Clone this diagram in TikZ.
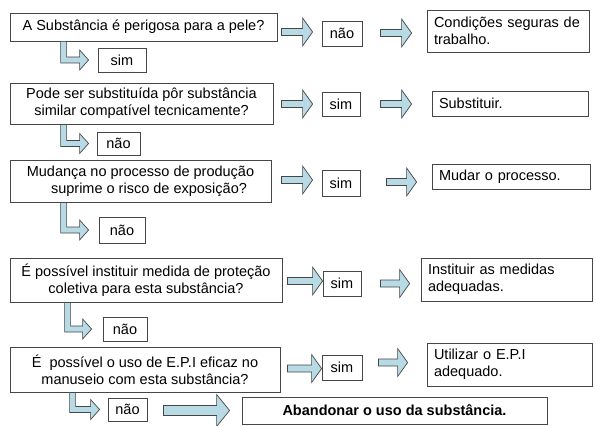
\documentclass[tikz,border=0pt]{standalone}
\usepackage{fontspec}
\setmainfont{Liberation Sans}
\usetikzlibrary{calc,shadows}
\definecolor{arrowfill}{RGB}{183,218,229}
\definecolor{boxline}{RGB}{70,70,70}
% straight block arrow: #1 start (tail centre), #2 end (tip, only x used), #3 shaft half, #4 head half, #5 head length
\newcommand\rowarr[5]{%
  \path[barrow] let \p1=#1, \p2=#2 in
    (\x1,\y1+#3) -- (\x2-#5,\y1+#3) -- (\x2-#5,\y1+#4) -- (\x2,\y1)
    -- (\x2-#5,\y1-#4) -- (\x2-#5,\y1-#3) -- (\x1,\y1-#3) -- cycle;}
% L-shaped block arrow: #1 top of vertical shaft (centre), #2 tip
\newcommand\larr[2]{%
  \path[barrow] let \p1=#1, \p2=#2 in
    (\x1-3pt,\y1) -- (\x1-3pt,\y2-3pt) -- (\x2-9pt,\y2-3pt) -- (\x2-9pt,\y2-10pt)
    -- (\x2,\y2) -- (\x2-9pt,\y2+10pt) -- (\x2-9pt,\y2+3pt) -- (\x1+3pt,\y2+3pt)
    -- (\x1+3pt,\y1) -- cycle;}
\begin{document}
\begin{tikzpicture}[x=1pt,y=-1pt,
  every node/.style={font=\fontsize{14.5}{17}\selectfont},
  box/.style={draw=boxline, line width=0.8pt, fill=white, inner sep=0pt, align=center,
    drop shadow={shadow xshift=1pt,shadow yshift=-1pt,fill=black!50,opacity=1}},
  rbox/.style={box, align=left, inner xsep=7pt},
  barrow/.style={fill=arrowfill, draw=boxline, line width=0.7pt, line join=miter},
]
\useasboundingbox[fill=white] (0,0) rectangle (596,425);

% Row 1
\node[box, minimum width=267pt, minimum height=28pt] (q1) at (143.5,27) {A Substância é perigosa para a pele?};
\node[box, minimum width=40pt, minimum height=25pt] (n1) at (342,33.5) {não};
\node[rbox, text width=148pt, minimum height=42pt] (r1) at (508,31) {Condições seguras de\\trabalho.};
\node[box, minimum width=48pt, minimum height=24pt] (s1) at (122,60) {sim};
\rowarr{($(q1.east)+(4,5)$)}{($(n1.west)+(-9,0)$)}{3.5pt}{14pt}{10pt}
\rowarr{($(n1.east)+(18,-0.5)$)}{($(r1.west)+(-15,0)$)}{3.5pt}{14pt}{10pt}
\larr{($(q1.south west)+(54,0)$)}{($(s1.west)+(-9,0)$)}

% Row 2
\node[box, minimum width=263pt, minimum height=41pt] (q2) at (141.5,103.5) {Pode ser substituída pôr substância\\similar compatível tecnicamente?};
\node[box, minimum width=38pt, minimum height=24pt] (s2) at (341,104) {sim};
\node[rbox, text width=142pt, minimum height=25pt] (r2) at (510,103.5) {Substituir.};
\node[box, minimum width=43pt, minimum height=23pt] (n2) at (118.5,143.5) {não};
\rowarr{($(q2.east)+(8,0.5)$)}{($(s2.west)+(-9,0)$)}{3.5pt}{14pt}{10pt}
\rowarr{($(s2.east)+(20,0)$)}{($(r2.west)+(-20,0)$)}{3.5pt}{14pt}{10pt}
\larr{($(q2.south west)+(54,0)$)}{($(n2.west)+(-8,0)$)}

% Row 3
\node[box, minimum width=261pt, minimum height=42pt] (q3) at (140.5,181) {Mudança no processo de produção\\\hspace*{17pt}suprime o risco de exposição?};
\node[box, minimum width=38pt, minimum height=26pt] (s3) at (341,183) {sim};
\node[rbox, text width=144pt, minimum height=25pt] (r3) at (511,176.5) {Mudar o processo.};
\node[box, minimum width=46pt, minimum height=26pt] (n3) at (122,230) {não};
\rowarr{($(q3.east)+(10,-1)$)}{($(s3.west)+(-9,0)$)}{3.5pt}{14pt}{10pt}
\rowarr{($(s3.east)+(26,-1)$)}{($(r3.west)+(-15,0)$)}{3.5pt}{14pt}{10pt}
\larr{($(q3.south west)+(54,0)$)}{($(n3.west)+(-10,0)$)}

% Row 4
\node[box, minimum width=272pt, minimum height=44pt] (q4) at (146,280) {É possível instituir medida de proteção\\coletiva para esta substância?};
\node[box, minimum width=38pt, minimum height=25pt] (s4) at (342,283.5) {sim};
\node[rbox, text width=157pt, minimum height=43pt] (r4) at (506.5,279.5) {Instituir as medidas\\adequadas.};
\node[box, minimum width=44pt, minimum height=24pt] (n4) at (125,329) {não};
\rowarr{($(q4.east)+(5,1)$)}{(s4.west)}{3.5pt}{14pt}{10pt}
\rowarr{($(s4.east)+(19,0)$)}{($(r4.west)+(-11,0)$)}{3.5pt}{14pt}{10pt}
\larr{($(q4.south west)+(58,0)$)}{($(n4.west)+(-11,0)$)}

% Row 5
\node[box, minimum width=270pt, minimum height=45pt] (q5) at (145,369.5) {É\ \ possível o uso de E.P.I eficaz no\\manuseio com esta substância?};
\node[box, minimum width=40pt, minimum height=25pt] (s5) at (342,367.5) {sim};
\node[rbox, text width=151pt, minimum height=43pt] (r5) at (509.5,364.5) {Utilizar o E.P.I\\adequado.};
\node[box, minimum width=39pt, minimum height=23pt] (n5) at (127.5,409.5) {não};
\node[box, minimum width=305pt, minimum height=27pt] (ab) at (394.5,410.5) {\textbf{Abandonar o uso da substância.}};
\rowarr{($(q5.east)+(7,-1)$)}{(s5.west)}{3.5pt}{14pt}{10pt}
\rowarr{($(s5.east)+(16,-5)$)}{($(r5.west)+(-19,0)$)}{3.5pt}{14pt}{10pt}
\larr{($(q5.south west)+(63,0)$)}{($(n5.west)+(-8,0)$)}
\rowarr{($(n5.east)+(16,1)$)}{($(ab.west)+(-12,0)$)}{5pt}{16pt}{13pt}
\end{tikzpicture}
\end{document}
